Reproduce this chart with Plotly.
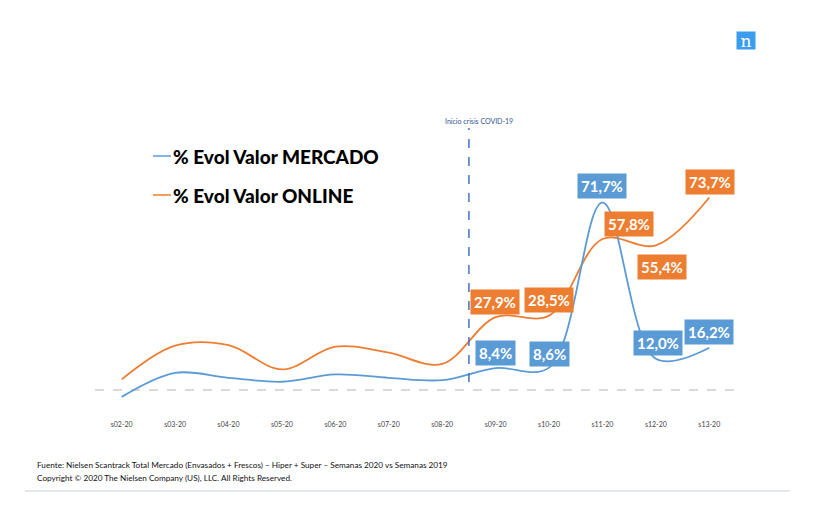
import plotly.graph_objects as go

weeks = ["s02-20", "s03-20", "s04-20", "s05-20", "s06-20", "s07-20",
         "s08-20", "s09-20", "s10-20", "s11-20", "s12-20", "s13-20"]
mercado = [-2.6, 6.6, 4.7, 3.2, 6.0, 4.7, 3.8, 8.4, 8.6, 71.7, 12.0, 16.2]
online = [4.1, 17.0, 17.2, 7.9, 16.6, 14.3, 10.0, 27.9, 28.5, 57.8, 55.4, 73.7]
labeled_idx = [7, 8, 9, 10, 11]
crisis_pos = 6.5
name_m = "% Evol Valor MERCADO"
name_o = "% Evol Valor ONLINE"
crisis_text = "Inicio crisis COVID-19"
footer1 = "Fuente: Nielsen Scantrack Total Mercado (Envasados + Frescos) – Hiper + Super – Semanas 2020 vs Semanas 2019"
footer2 = "Copyright © 2020 The Nielsen Company (US), LLC. All Rights Reserved."

BLUE = "#5B9BD5"
ORANGE = "#ED7D31"
W, H = 837, 520
ML, MR, MT, MB = 95, 101, 181, 109
PW, PH = W - ML - MR, H - MT - MB

def xp(px):
    return (px - ML) / PW

def yp(py):
    return (H - MB - py) / PH

x = list(range(len(weeks)))
fig = go.Figure()
fig.add_trace(go.Scatter(x=x, y=online, mode="lines", name=name_o,
                         line=dict(color=ORANGE, width=1.8, shape="spline", smoothing=1.0),
                         showlegend=False))
fig.add_trace(go.Scatter(x=x, y=mercado, mode="lines", name=name_m,
                         line=dict(color=BLUE, width=1.8, shape="spline", smoothing=1.0),
                         showlegend=False))

def fmt(v):
    return f"{v:.1f}%".replace(".", ",")

# label offsets (px): (dx, dy up)
off_m = {7: (0, 15), 8: (0, 14), 9: (0, 17), 10: (2, 16), 11: (0, 16)}
off_o = {7: (-1, 15), 8: (0, 16), 9: (27, 15), 10: (6, -22), 11: (1, 15)}

anns = []
for i in labeled_idx:
    for vals, offs, col in ((mercado, off_m, BLUE), (online, off_o, ORANGE)):
        dx, dy = offs[i]
        anns.append(dict(x=i, y=vals[i], xref="x", yref="y", text=fmt(vals[i]),
                         showarrow=False, xshift=dx, yshift=dy,
                         xanchor="center", yanchor="middle",
                         font=dict(family="Lato", size=15, color="white", weight="bold"),
                         bgcolor=col, borderpad=3))

# legend-like labels
for name, col, py in ((name_m, BLUE, 156), (name_o, ORANGE, 195)):
    fig.add_shape(type="line", xref="paper", yref="paper",
                  x0=xp(153), x1=xp(171), y0=yp(py), y1=yp(py),
                  line=dict(color=col, width=1.5))
    anns.append(dict(x=xp(171), y=yp(py), xref="paper", yref="paper", text=name,
                     showarrow=False, xanchor="left", yanchor="middle",
                     font=dict(family="Lato", size=19, color="black", weight=900)))

# crisis marker
fig.add_shape(type="line", xref="x", yref="paper", x0=crisis_pos, x1=crisis_pos,
              y0=yp(382), y1=yp(128), line=dict(color="#4472C4", width=1.5, dash="dash"))
anns.append(dict(x=xp(479), y=yp(121), xref="paper", yref="paper", text=crisis_text,
                 showarrow=False, xanchor="center", yanchor="middle",
                 font=dict(family="Lato", size=7, color="#2F5597")))

# zero line
fig.add_shape(type="line", xref="paper", yref="y", x0=0, x1=1, y0=0, y1=0,
              line=dict(color="#D9D9D9", width=2, dash="dash"), layer="below")

# footer
anns.append(dict(x=xp(35), y=yp(465), xref="paper", yref="paper", text=footer1,
                 showarrow=False, xanchor="left", yanchor="middle",
                 font=dict(family="Lato", size=8.2, color="#111111")))
anns.append(dict(x=xp(35), y=yp(478), xref="paper", yref="paper", text=footer2,
                 showarrow=False, xanchor="left", yanchor="middle",
                 font=dict(family="Lato", size=8.2, color="#111111")))
fig.add_shape(type="line", xref="paper", yref="paper", x0=xp(25), x1=xp(790),
              y0=yp(491), y1=yp(491), line=dict(color="#E4E8EC", width=2))

# logo
anns.append(dict(x=xp(746), y=yp(40), xref="paper", yref="paper", text="n",
                 showarrow=False, width=18, height=17, bgcolor="#3A9CEE",
                 borderpad=0, valign="middle", xanchor="center", yanchor="middle",
                 font=dict(family="DejaVu Serif", size=17, color="white")))

fig.update_layout(
    width=W, height=H, margin=dict(l=ML, r=MR, t=MT, b=MB),
    paper_bgcolor="white", plot_bgcolor="white",
    annotations=anns,
    xaxis=dict(range=[-0.5, 11.5], tickmode="array", tickvals=x, ticktext=weeks,
               showgrid=False, zeroline=False, showline=False, ticks="",
               tickfont=dict(family="Lato", size=7, color="#444444"),
               ticklabelstandoff=8),
    yaxis=dict(range=[-8, 80], visible=False, showgrid=False, zeroline=False),
)
fig.write_html("out.html")
